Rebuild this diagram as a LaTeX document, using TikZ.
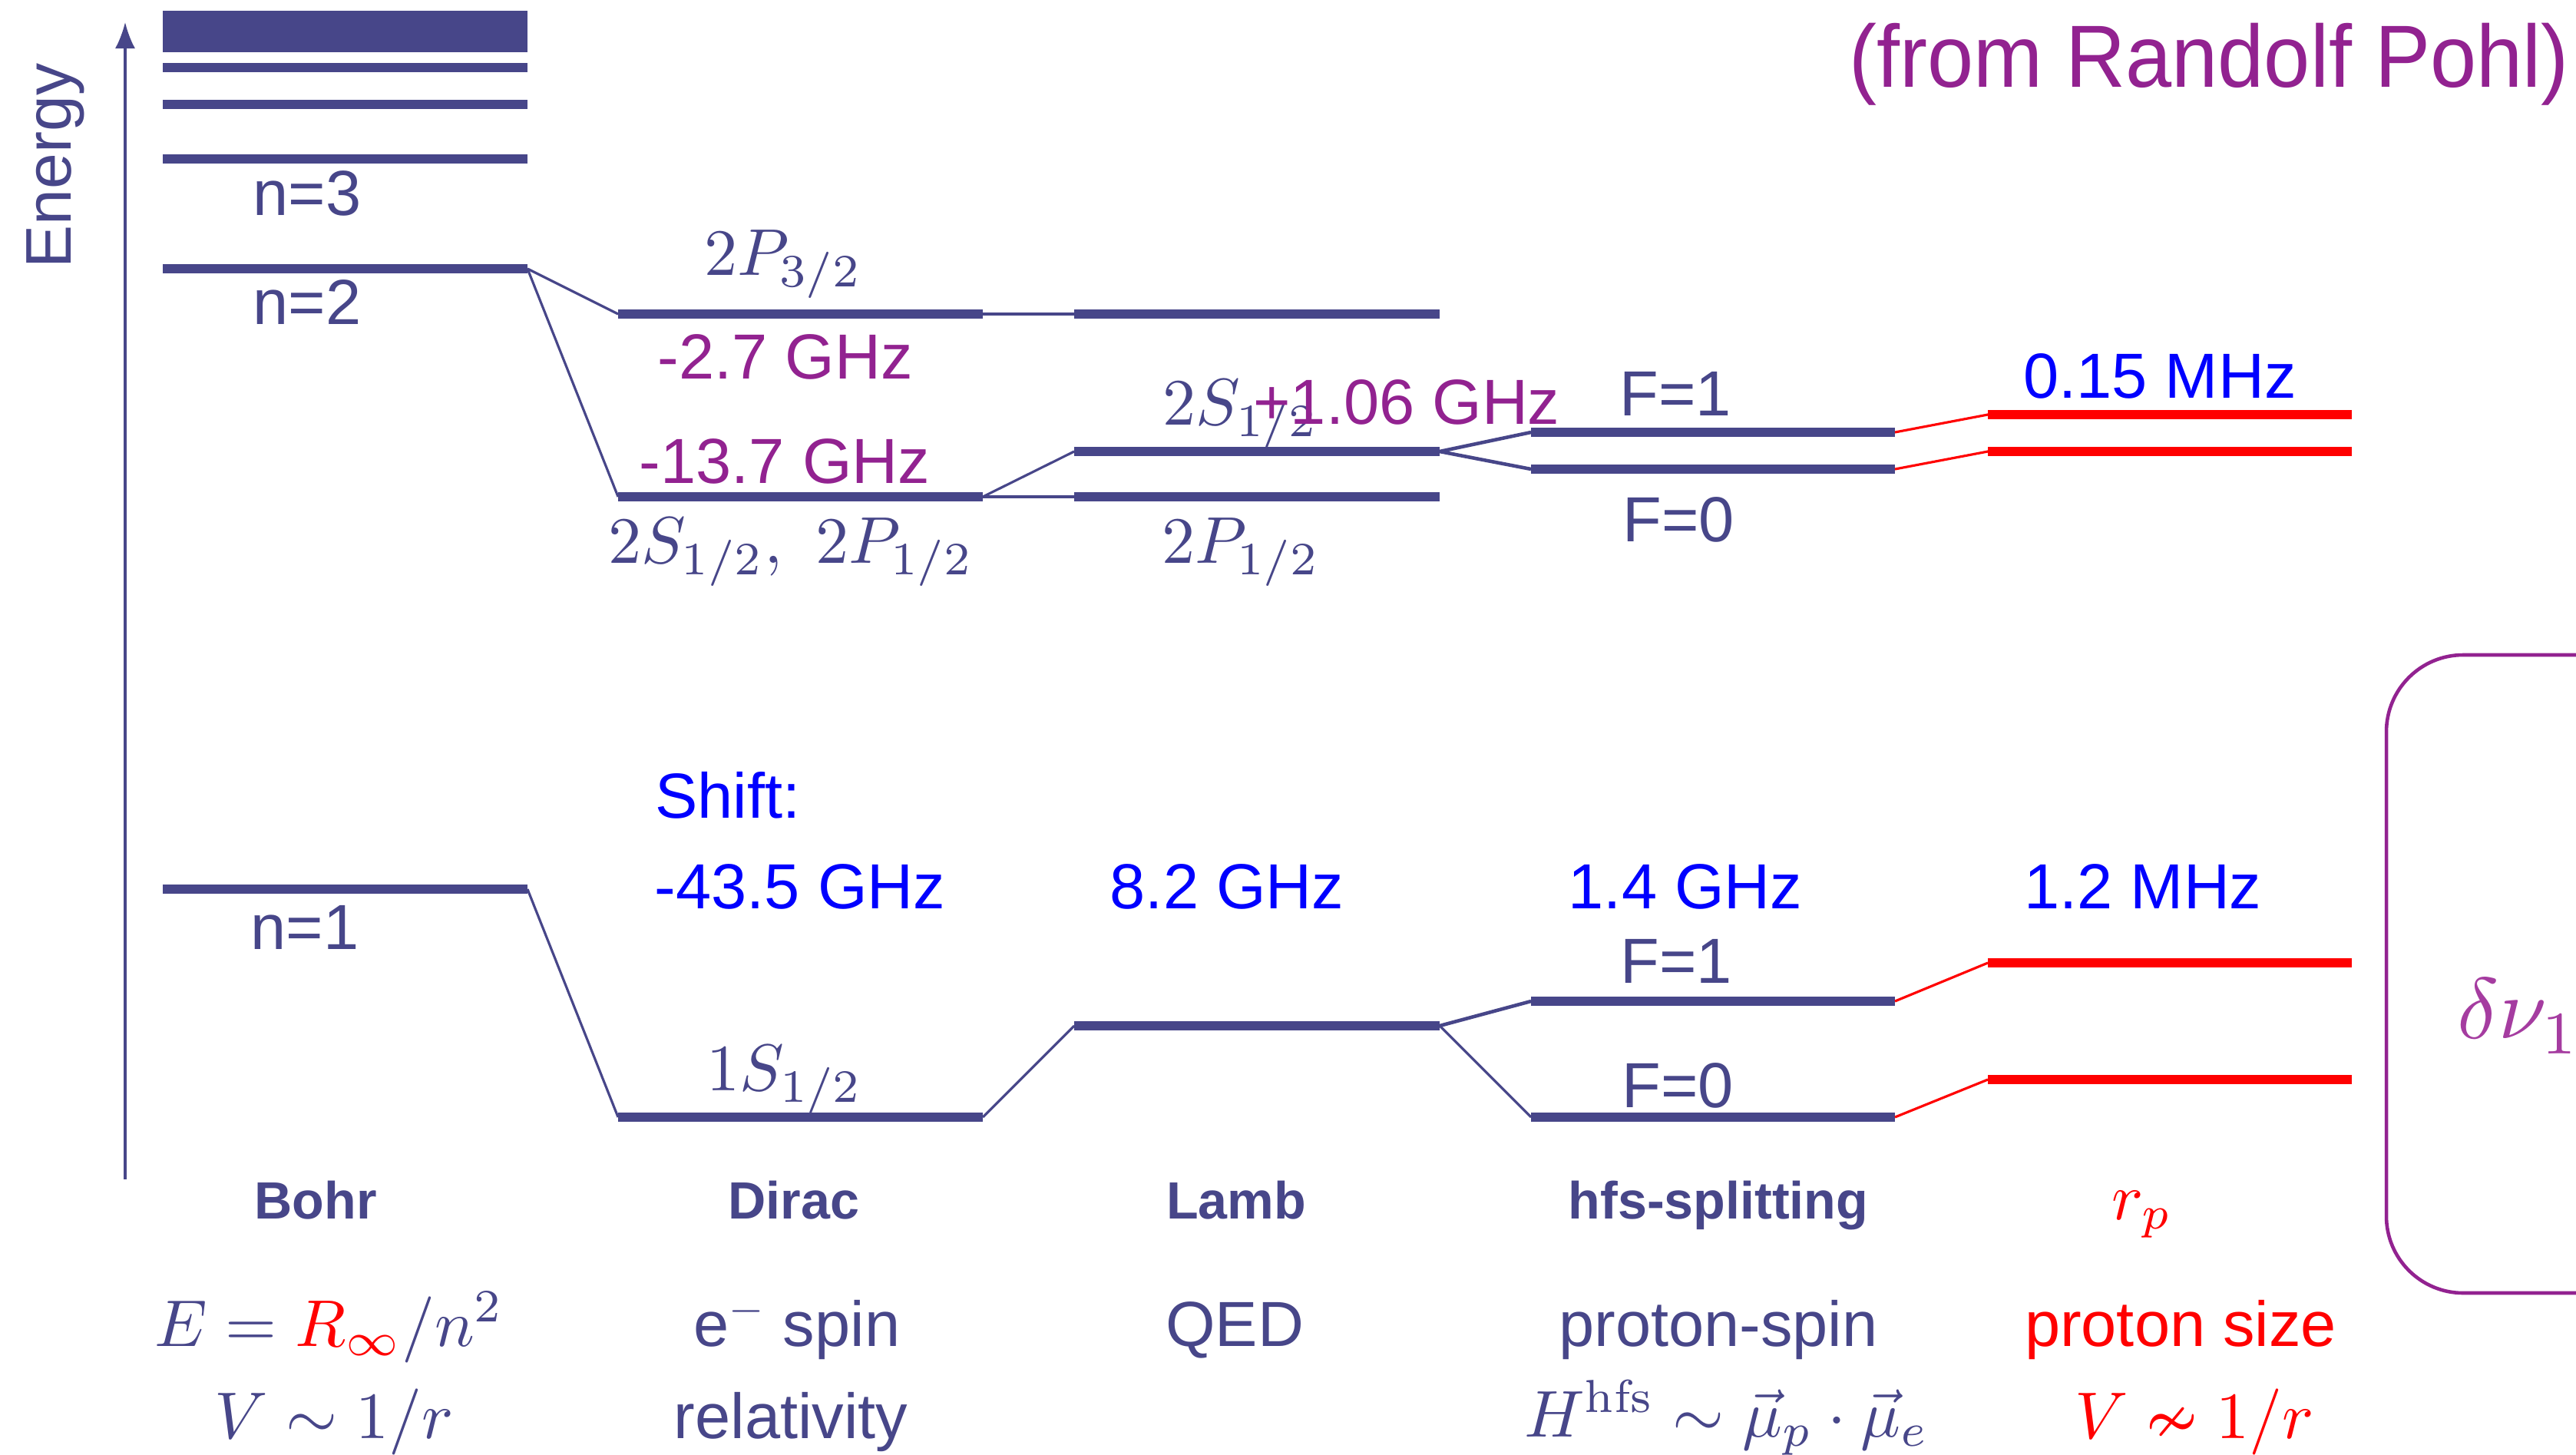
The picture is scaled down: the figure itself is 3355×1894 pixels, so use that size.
\RequirePackage{fix-cm}
\documentclass[tikz,border=0pt]{standalone}
\usepackage{fontspec}
\usepackage{amsmath,amssymb}
\usepackage{graphicx}
\newfontfamily\hv{Liberation Sans}
\newfontfamily\gill[FakeStretch=0.94]{Liberation Sans}
\usetikzlibrary{arrows.meta}
\definecolor{lvc}{RGB}{71,70,137}
\definecolor{pur}{RGB}{146,34,144}
\definecolor{purl}{RGB}{165,60,160}
\definecolor{rd}{RGB}{255,0,0}
\definecolor{bl}{RGB}{0,0,255}
\newcommand\mklev[5][lvl]{\coordinate (#2L) at (#3,#5); \coordinate (#2R) at (#4,#5); \draw[#1] (#2L) -- (#2R);}
\newcommand\MM[1]{\scalebox{2.45}{$#1$}}
\tikzset{
  lvl/.style={draw=lvc, line width=3.6pt},
  rlvl/.style={draw=rd, line width=3.6pt},
  con/.style={draw=lvc, line width=0.9pt},
  conb/.style={draw=lvc, line width=1.3pt},
  rcon/.style={draw=rd, line width=0.9pt},
  lbl/.style={font=\hv\fontsize{23.6}{28}\selectfont, text=lvc, anchor=base, inner sep=0pt},
  blu/.style={lbl, text=bl},
  prp/.style={lbl, text=pur},
  hd/.style={font=\hv\bfseries\fontsize{19.4}{24}\selectfont, text=lvc, anchor=base, inner sep=0pt},
  mth/.style={font=\fontsize{10}{12}\selectfont, text=lvc, anchor=base, inner sep=0pt},
}
\begin{document}
\begin{tikzpicture}[x=0.01cm,y=-0.01cm]
\clip (0,0) rectangle (3355,1894);
\fill[white] (0,0) rectangle (3355,1894);

% Energy axis
\coordinate (ax0) at (163,1536);
\coordinate (ax1) at (163,29);
\draw[con,-{Latex[length=0.34cm,width=0.26cm]}] (ax0) -- (ax1);
\node[lbl, font=\hv\fontsize{23.9}{28}\selectfont, rotate=90] (energy) at (92,216) {Energy};

% Bohr levels
\fill[lvc] (212,14) rectangle (687,68);
\mklev{b1}{212}{687}{88}
\mklev{b2}{212}{687}{136}
\mklev{b3}{212}{687}{207}
\mklev{bn2}{212}{687}{350}
\mklev{bn1}{212}{687}{1158}

% Dirac
\mklev{dpt}{805}{1280}{409}
\mklev{dsp}{805}{1280}{647}
\mklev{dos}{805}{1280}{1455}

% Lamb
\mklev{lpt}{1399}{1875}{409}
\mklev{lts}{1399}{1875}{588}
\mklev{ltp}{1399}{1875}{647}
\mklev{los}{1399}{1875}{1336}

% hfs
\mklev{hta}{1994}{2468}{563}
\mklev{htb}{1994}{2468}{611}
\mklev{hoa}{1994}{2468}{1304}
\mklev{hob}{1994}{2468}{1455}

% proton size
\mklev[rlvl]{rta}{2589}{3063}{540}
\mklev[rlvl]{rtb}{2589}{3063}{588}
\mklev[rlvl]{roa}{2589}{3063}{1254}
\mklev[rlvl]{rob}{2589}{3063}{1406}

% connectors n=2
\draw[con] (bn2R) -- (dptL);
\draw[con] (bn2R) -- (dspL);
\draw[con] (dptR) -- (lptL);
\draw[con] (dspR) -- (ltsL);
\draw[con] (dspR) -- (ltpL);
\draw[conb] (ltsR) -- (htaL);
\draw[conb] (ltsR) -- (htbL);
\draw[rcon] (htaR) -- (rtaL);
\draw[rcon] (htbR) -- (rtbL);
% connectors n=1
\draw[con] (bn1R) -- (dosL);
\draw[con] (dosR) -- (losL);
\draw[conb] (losR) -- (hoaL);
\draw[con] (losR) -- (hobL);
\draw[rcon] (hoaR) -- (roaL);
\draw[rcon] (hobR) -- (robL);

% Bohr labels
\node[lbl] (n3) at (400,280) {n=3};
\node[lbl] (n2) at (400,422) {n=2};
\node[lbl] (n1) at (397,1236) {n=1};

% n=2 labels
\node[mth] (l2p32) at (1020,358) {\MM{2P_{3/2}}};
\node[prp] (g27) at (1023,493) {-2.7 GHz};
\node[prp] (g137) at (1022,629) {-13.7 GHz};
\node[mth] (l2s2p) at (1030,733) {\MM{2S_{1/2},\ 2P_{1/2}}};
\node[mth] (l2s) at (1616,553) {\MM{2S_{1/2}}};
\node[mth] (l2p) at (1616,733) {\MM{2P_{1/2}}};
\node[prp] (g106) at (1832,552) {+1.06 GHz};
\node[lbl] (f1a) at (2182,541) {F=1};
\node[lbl] (f0a) at (2186,705) {F=0};
\node[blu] (m015) at (2813,518) {0.15 MHz};

% n=1 labels
\node[blu] (shift) at (948,1065) {Shift:};
\node[blu] (g435) at (1042,1183) {-43.5 GHz};
\node[blu] (g82) at (1598,1183) {8.2 GHz};
\node[blu] (g14) at (2195,1183) {1.4 GHz};
\node[blu] (m12) at (2791,1183) {1.2 MHz};
\node[lbl] (f1b) at (2183,1280) {F=1};
\node[lbl] (f0b) at (2185,1442) {F=0};
\node[mth] (l1s) at (1022,1420) {\MM{1S_{1/2}}};

% column headings
\node[hd] (hbohr) at (411,1587) {Bohr};
\node[hd] (hdirac) at (1034,1587) {Dirac};
\node[hd] (hlamb) at (1610,1587) {Lamb};
\node[hd] (hhfs) at (2238,1587) {hfs-splitting};
\node[mth, text=rd] (hrp) at (2790,1588) {\MM{r_p}};

% bottom rows
\node[mth] (eb) at (429,1753) {\MM{E=\textcolor{rd}{R_\infty}/n^2}};
\node[lbl] (espin) at (1038,1753) {e$^-$ spin};
\node[lbl] (qed) at (1608,1753) {QED};
\node[lbl] (pspin) at (2238,1753) {proton-spin};
\node[lbl, text=rd] (psize) at (2840,1753) {proton size};
\node[mth] (vb) at (435,1873) {\MM{V\sim 1/r}};
\node[lbl] (rel) at (1030,1873) {relativity};
\node[mth] (hfsf) at (2249,1871) {\MM{H^{\mathrm{hfs}}\sim\vec{\mu}_p\cdot\vec{\mu}_e}};
\node[mth, text=rd] (vr) at (2858,1873) {\MM{V\nsim 1/r}};

% top right credit
\node[lbl, text=pur, font=\gill\fontsize{32.7}{38}\selectfont] (credit) at (2877,114) {(from Randolf Pohl)};

% purple box
\draw[draw=pur, line width=1.3pt, rounded corners=1cm] (3108,853) rectangle (3700,1684);
\node[mth, text=purl, anchor=base west] (dnu) at (3200,1352) {\scalebox{3.2}{$\delta\nu_{1/2}$}};
\end{tikzpicture}
\end{document}
